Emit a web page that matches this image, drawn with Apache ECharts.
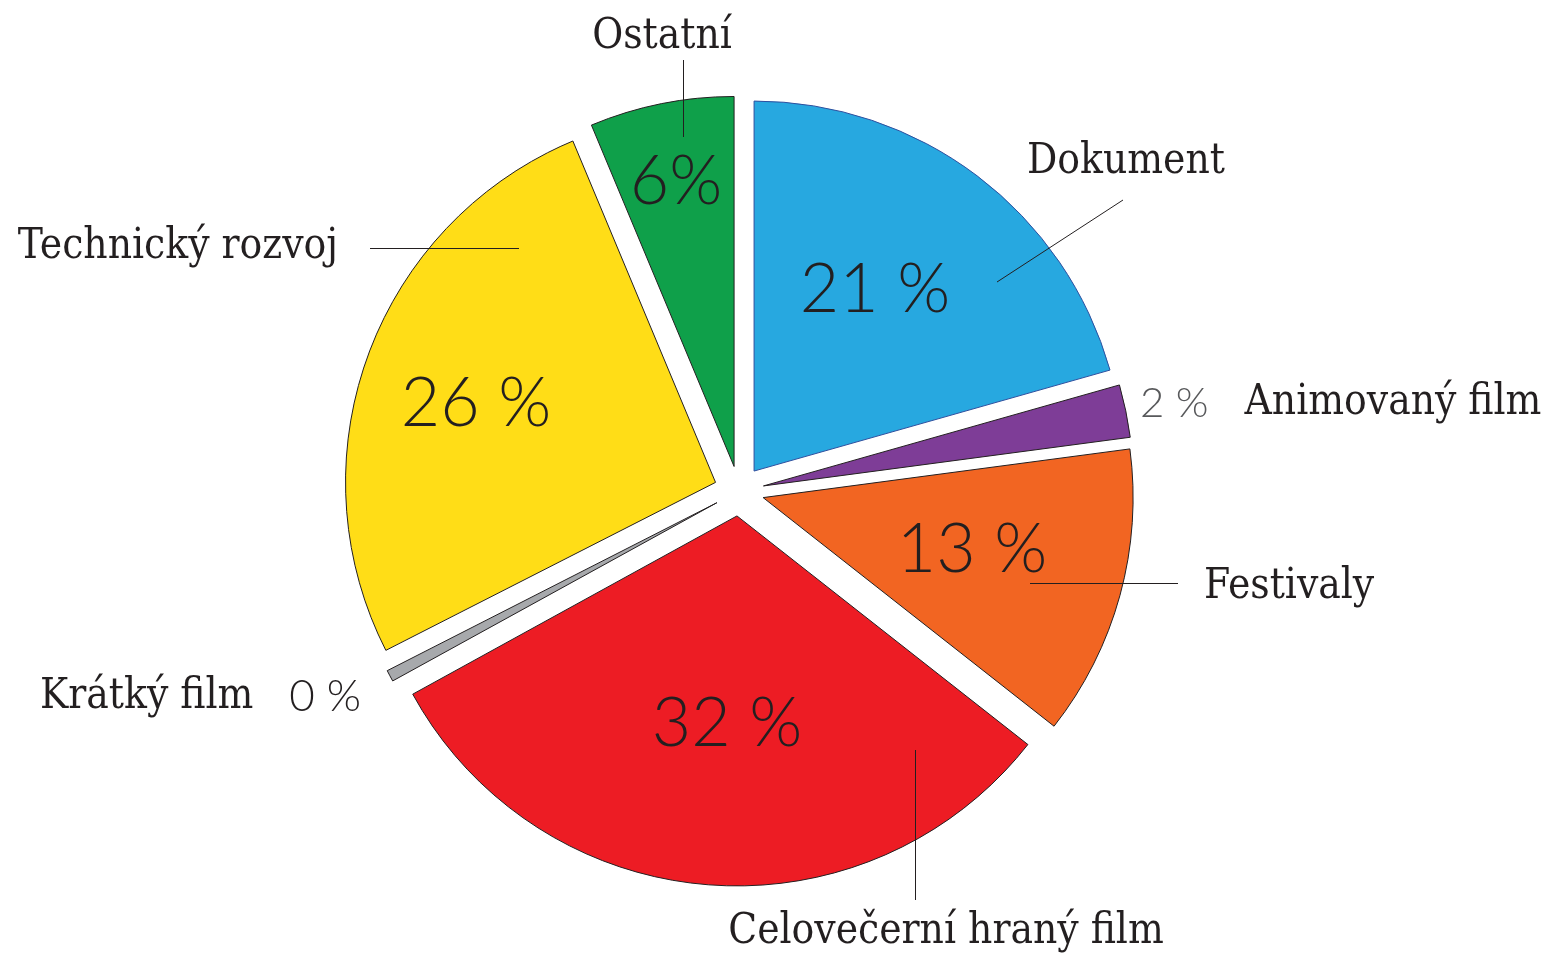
<!DOCTYPE html>
<html>
<head>
<meta charset="utf-8">
<script src="https://cdn.jsdelivr.net/npm/echarts@6/dist/echarts.min.js"></script>
<style>
html, body { margin: 0; padding: 0; background: #fff; }
#chart { width: 1553px; height: 953px; }
</style>
</head>
<body>
<div id="chart"></div>
<script>
// data
var names = ['Dokument', 'Animovaný film', 'Festivaly', 'Celovečerní hraný film', 'Krátký film', 'Technický rozvoj', 'Ostatní'];
var values = [20.6, 2.3, 12.7, 31.4, 0.5, 26.2, 6.3];
var pctLabels = ['21 %', '2 %', '13 %', '32 %', '0 %', '26 %', '6%'];
var colors = ['#27a8e0', '#7e3d97', '#f26522', '#ed1c24', '#a7a9ac', '#ffdd17', '#0fa04a'];

var TXT = '#231f20';
var SERIF = '"DejaVu Serif Condensed", "DejaVu Serif", serif';
var SANS = 'Lato, "Open Sans", sans-serif';
var CENTER = [739, 491];
var R = 370;

// umisteni procent (stred textu)
var pctPos = {
	'Dokument': [875, 290],
	'Festivaly': [972, 550],
	'Celovečerní hraný film': [727, 724],
	'Technický rozvoj': [476, 404],
	'Ostatní': [676, 182]
};
// umisteni popisku + vodici cary
var namePos = {
	'Dokument': { x: 1027, y: 162, align: 'left', line: [[997, 282], [1123, 200]] },
	'Animovaný film': { x: 1140, y: 403, align: 'left' },
	'Festivaly': { x: 1204, y: 587, align: 'left', line: [[1030, 583.5], [1178, 583.5]] },
	'Celovečerní hraný film': { x: 946, y: 932, align: 'center', line: [[915.5, 750], [915.5, 900]] },
	'Krátký film': { x: 40, y: 697, align: 'left' },
	'Technický rozvoj': { x: 338, y: 247, align: 'right', line: [[519, 248.5], [370, 248.5]] },
	'Ostatní': { x: 662, y: 37, align: 'center', line: [[683.5, 137], [683.5, 60]] }
};

var chart = echarts.init(document.getElementById('chart'));

var sliceData = names.map(function (n, i) {
	return {
		name: n,
		value: values[i],
		selected: true,
		itemStyle: {
			color: colors[i],
			borderColor: i === 0 ? '#2e4f9e' : TXT
		}
	};
});

var nameData = names.map(function (n, i) {
	return {
		name: n,
		value: values[i],
		labelLine: { show: !!namePos[n].line },
		label: n === 'Animovaný film' ? { width: 420 } : {}
	};
});

var pctData = names.map(function (n, i) {
	return {
		name: n,
		value: values[i],
		label: { show: !!pctPos[n] }
	};
});

var clear = { color: 'rgba(0,0,0,0)', borderWidth: 0 };

var option = {
	animation: false,
	series: [{
		// vysece
		type: 'pie',
		z: 2,
		center: CENTER,
		radius: R,
		startAngle: 90,
		selectedMode: 'multiple',
		selectedOffset: 25,
		silent: true,
		itemStyle: { borderWidth: 1 },
		label: { show: false },
		labelLine: { show: false },
		emphasis: { disabled: true },
		data: sliceData
	}, {
		// nazvy
		type: 'pie',
		z: 3,
		center: CENTER,
		radius: R,
		startAngle: 90,
		silent: true,
		itemStyle: clear,
		label: {
			position: 'outside',
			color: TXT,
			fontFamily: SERIF,
			fontSize: 42,
			formatter: function (p) {
				if (p.name === 'Animovaný film') return '{g|' + pctLabels[p.dataIndex] + '}   ' + p.name;
				if (p.name === 'Krátký film') return p.name + '   {p|' + pctLabels[p.dataIndex] + '}';
				return p.name;
			},
			rich: {
				p: { fontFamily: SANS, fontWeight: 300, fontSize: 44, color: TXT },
				g: { fontFamily: SANS, fontWeight: 300, fontSize: 42, color: '#58595b' }
			}
		},
		labelLine: { show: true, lineStyle: { color: TXT, width: 1 } },
		labelLayout: function (p) {
			var c = namePos[names[p.dataIndex]];
			var r = { x: c.x, y: c.y, align: c.align, verticalAlign: 'middle' };
			if (c.line) r.labelLinePoints = c.line.concat([c.line[1]]);
			return r;
		},
		emphasis: { disabled: true },
		data: nameData
	}, {
		// procenta
		type: 'pie',
		z: 4,
		center: CENTER,
		radius: R,
		startAngle: 90,
		silent: true,
		itemStyle: clear,
		label: {
			position: 'inside',
			color: TXT,
			fontFamily: SANS,
			fontWeight: 300,
			fontSize: 68,
			formatter: function (p) { return pctLabels[p.dataIndex]; }
		},
		labelLine: { show: false },
		labelLayout: function (p) {
			var pos = pctPos[names[p.dataIndex]];
			if (!pos) return {};
			return { x: pos[0], y: pos[1], align: 'center', verticalAlign: 'middle' };
		},
		emphasis: { disabled: true },
		data: pctData
	}]
};

chart.setOption(option);
</script>
</body>
</html>
